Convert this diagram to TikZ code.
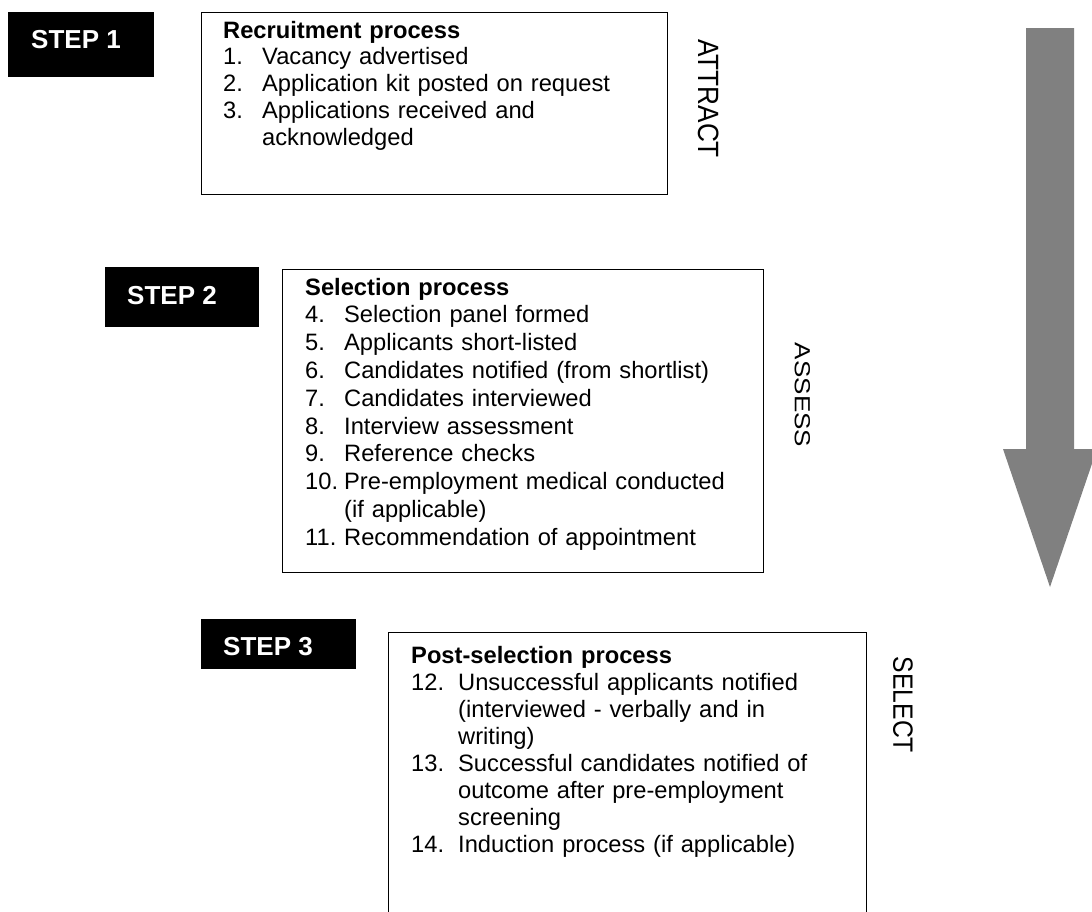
\documentclass[tikz,border=0pt]{standalone}
\usepackage{fontspec}
\setmainfont{Liberation Sans}
\usepackage{graphicx}
\definecolor{arrowgrey}{HTML}{808080}
\newcommand{\procitem}[3][39pt]{\par\hangindent=#1\hangafter=1\noindent\makebox[#1][l]{#2}#3\par}

\begin{document}
\begin{tikzpicture}[x=1pt, y=-1pt,
    stepbox/.style={fill=black, inner sep=0pt, anchor=north west},
    steplabel/.style={text=white, inner sep=0pt, anchor=base west, font=\bfseries\fontsize{26pt}{30pt}\selectfont},
    procbox/.style={draw=black, line width=1.3pt, inner sep=0pt, anchor=north west},
    proctext/.style={inner sep=0pt, anchor=base west, execute at begin node=\raggedright, font=\fontsize{23.7pt}{#1}\selectfont},
    phase/.style={rotate=-90, inner sep=0pt, font=\fontsize{#1pt}{#1pt}\selectfont}]

        \useasboundingbox (0,0) rectangle (1092,911);
        \clip (0,0) rectangle (1092,911);

        % Big arrow on the right
        \fill[arrowgrey] (1026,28) -- (1074,28) -- (1074,449) -- (1097,449) -- (1050,587) -- (1003,449) -- (1026,449) -- cycle;

        % Step 1
        \node[stepbox, minimum width=146pt, minimum height=65pt] (step1) at (8,12) {};
        \node[steplabel] (step1text) at (31,48) {STEP 1};
        \node[procbox, minimum width=466pt, minimum height=182pt] (recruit) at (201,12) {};
        \node[proctext=26.75pt, text width=430pt] (recruitlist) at (223,38) {\textbf{Recruitment process}
            \procitem{1.}{Vacancy advertised}
            \procitem{2.}{Application kit posted on request}
            \procitem{3.}{Applications received and\newline acknowledged}};
        \node[phase=26.2] (attract) at (708.5,98.5) {\scalebox{1}[1.12]{ATTRACT}};

        % Step 2
        \node[stepbox, minimum width=154pt, minimum height=60pt] (step2) at (105,267) {};
        \node[steplabel] (step2text) at (127,304) {STEP 2};
        \node[procbox, minimum width=481pt, minimum height=303pt] (select) at (282,269) {};
        \node[proctext=27.8pt, text width=445pt] (selectlist) at (305,295) {\textbf{Selection process}
            \procitem{4.}{Selection panel formed}
            \procitem{5.}{Applicants short-listed}
            \procitem{6.}{Candidates notified (from shortlist)}
            \procitem{7.}{Candidates interviewed}
            \procitem{8.}{Interview assessment}
            \procitem{9.}{Reference checks}
            \procitem{10.}{Pre-employment medical conducted\newline (if applicable)}
            \procitem{11.}{Recommendation of appointment}};
        \node[phase=26] (assess) at (802.5,395) {\scalebox{1}[0.84]{ASSESS}};

        % Step 3
        \node[stepbox, minimum width=155pt, minimum height=50pt] (step3) at (201,619) {};
        \node[steplabel] (step3text) at (223,655) {STEP 3};
        \node[procbox, minimum width=478pt, minimum height=300pt] (postselect) at (388,632) {};
        \node[proctext=27pt, text width=445pt] (postlist) at (411,663) {\textbf{Post-selection process}
            \procitem[47pt]{12.}{Unsuccessful applicants notified\newline (interviewed - verbally and in\newline writing)}
            \procitem[47pt]{13.}{Successful candidates notified of\newline outcome after pre-employment\newline screening}
            \procitem[47pt]{14.}{Induction process (if applicable)}};
        \node[phase=24.7] (selectlabel) at (903,705) {\scalebox{1}[1.13]{SELECT}};

\end{tikzpicture}
\end{document}
